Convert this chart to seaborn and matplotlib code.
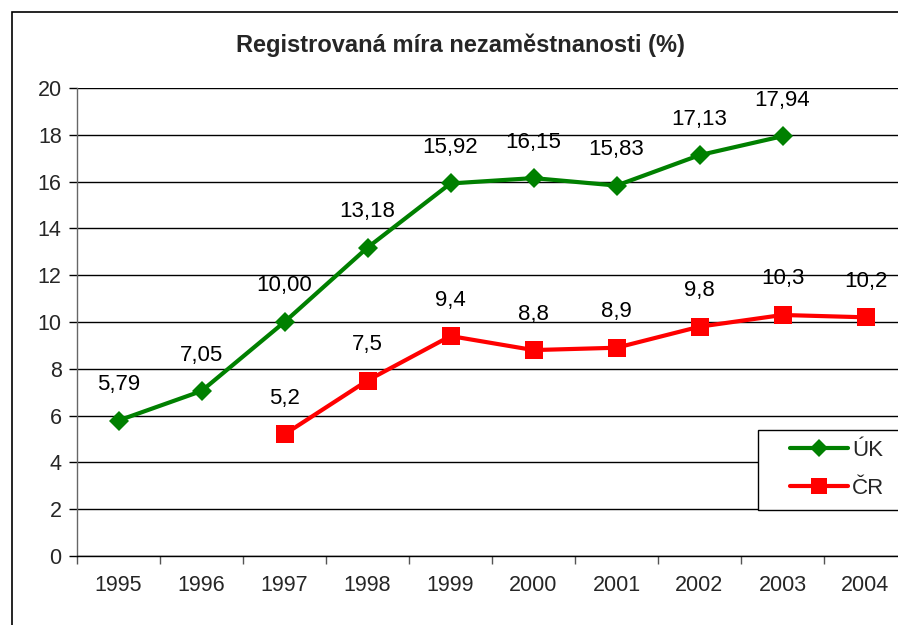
import matplotlib
matplotlib.use("Agg")
import matplotlib.pyplot as plt
from matplotlib.patches import Rectangle
from matplotlib.ticker import FixedLocator, NullFormatter
import seaborn as sns
import pandas as pd

years = [1995, 1996, 1997, 1998, 1999, 2000, 2001, 2002, 2003, 2004]
uk_years = [1995, 1996, 1997, 1998, 1999, 2000, 2001, 2002, 2003]
uk_values = [5.79, 7.05, 10.00, 13.18, 15.92, 16.15, 15.83, 17.13, 17.94]
uk_labels = ["5,79", "7,05", "10,00", "13,18", "15,92", "16,15", "15,83", "17,13", "17,94"]
cr_years = [1997, 1998, 1999, 2000, 2001, 2002, 2003, 2004]
cr_values = [5.2, 7.5, 9.4, 8.8, 8.9, 9.8, 10.3, 10.2]
cr_labels = ["5,2", "7,5", "9,4", "8,8", "8,9", "9,8", "10,3", "10,2"]
series_names = ["ÚK", "ČR"]
title = "Registrovaná míra nezaměstnanosti (%)"

sns.set_theme(style="white")
plt.rcParams["font.family"] = ["Liberation Sans", "DejaVu Sans"]

df = pd.DataFrame({
    "year": uk_years + cr_years,
    "value": uk_values + cr_values,
    "series": [series_names[0]] * len(uk_years) + [series_names[1]] * len(cr_years),
})

W, H = 898, 625
fig = plt.figure(figsize=(W / 100, H / 100), dpi=100)
fig.patch.set_facecolor("white")
ax = fig.add_axes([77 / W, 1 - 556 / H, 830 / W, 468 / H])

colors = {"ÚK": "#008000", "ČR": "#FF0000"}
markers = {"ÚK": "D", "ČR": "s"}
msize = {"ÚK": 10.5, "ČR": 12.5}

for name in series_names:
    sub = df[df["series"] == name]
    sns.lineplot(data=sub, x="year", y="value", color=colors[name],
                 marker=markers[name], linewidth=3, markersize=msize[name],
                 markeredgewidth=0, ax=ax, legend=False)

for xs, ys, labs in [(uk_years, uk_values, uk_labels), (cr_years, cr_values, cr_labels)]:
    for x, y, lab in zip(xs, ys, labs):
        ax.annotate(lab, (x, y), xytext=(0, 36), textcoords="offset pixels",
                    ha="center", va="center", fontsize=16, color="black")

ax.set_xlim(years[0] - 0.5, years[-1] + 0.5)
ax.set_ylim(0, 20)
ax.set_yticks(range(0, 21, 2))
ax.yaxis.grid(True, color="black", linewidth=1)
ax.xaxis.grid(False)
ax.set_axisbelow(True)

ax.xaxis.set_major_locator(FixedLocator([y - 0.5 for y in years] + [years[-1] + 0.5]))
ax.xaxis.set_major_formatter(NullFormatter())
ax.xaxis.set_minor_locator(FixedLocator(years))
ax.set_xticklabels([str(y) for y in years], minor=True)
ax.tick_params(axis="x", which="major", direction="out", length=6, width=1, color="#555555", bottom=True)
ax.tick_params(axis="x", which="minor", length=0, pad=14, labelsize=15.5, bottom=True)
ax.tick_params(axis="y", direction="out", length=6, width=1, color="black", pad=5, labelsize=15.5, left=True)
ax.set_xlabel("")
ax.set_ylabel("")

for s in ["top", "right"]:
    ax.spines[s].set_visible(False)
ax.spines["left"].set_color("#666666")
ax.spines["bottom"].set_color("black")
ax.spines["left"].set_linewidth(1)
ax.spines["bottom"].set_linewidth(1)

fig.text(460 / W, 1 - 45 / H, title, ha="center", va="center", fontsize=17, fontweight="bold")

# outer chart frame
fig.add_artist(Rectangle((12 / W, -0.1), 1.2, 1.1 - 12 / H, transform=fig.transFigure,
                         fill=False, edgecolor="black", linewidth=1.2, clip_on=False))

# legend box frame (inside the axes so it sits under the legend)
frame = Rectangle((758 / W, 1 - 510 / H), 0.3, 80 / H, transform=fig.transFigure,
                  facecolor="white", edgecolor="black", linewidth=1, clip_on=False, zorder=6)
ax.add_artist(frame)

handles = [plt.Line2D([], [], color=colors[n], marker=markers[n], linewidth=3,
                      markersize=msize[n] - 1, markeredgewidth=0) for n in series_names]
leg = ax.legend(handles, series_names, loc="upper left",
                bbox_to_anchor=(790 / W, 1 - 440 / H), bbox_transform=fig.transFigure,
                frameon=False, fontsize=16,
                handlelength=2.6, handletextpad=0.2, labelspacing=0.76,
                borderpad=0, borderaxespad=0)
leg.set_zorder(7)

fig.savefig("out.png", dpi=100, facecolor="white")
